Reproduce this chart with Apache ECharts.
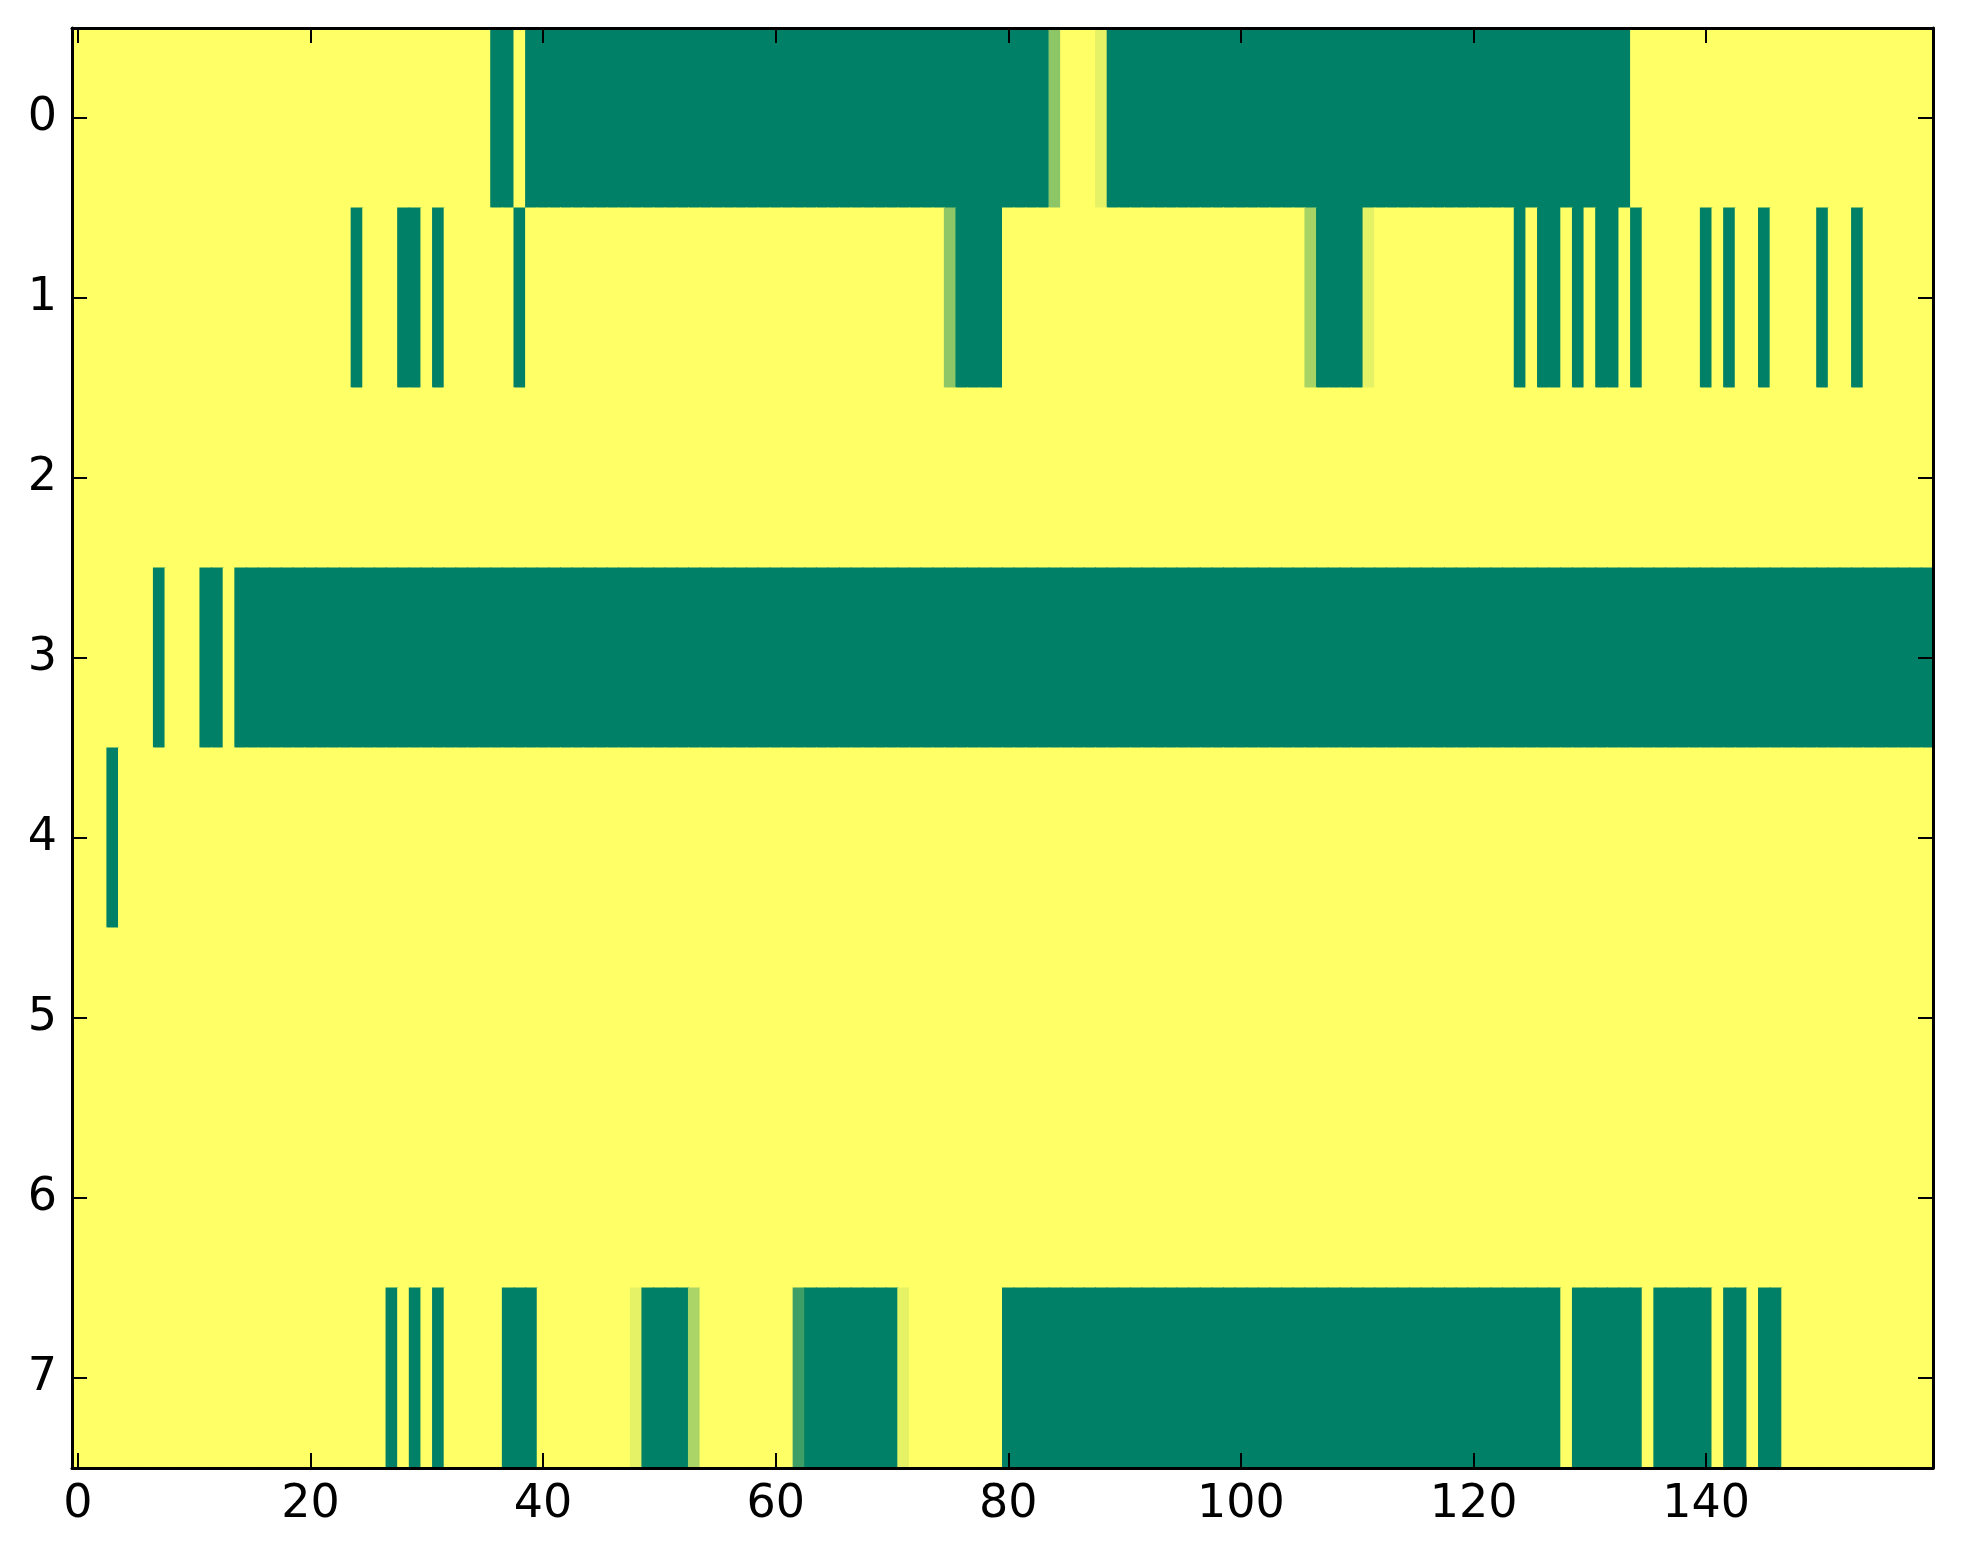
<!DOCTYPE html>
<html>
<head>
<meta charset="utf-8">
<script src="https://cdn.jsdelivr.net/npm/echarts@6/dist/echarts.min.js"></script>
<style>
html,body{margin:0;padding:0;background:#fff;}
#chart{width:1963px;height:1564px;}
</style>
</head>
<body>
<div id="chart"></div>
<script>
// column labels 0..159, row labels 0..7
var xCategories = [];
for (var i = 0; i < 160; i++) xCategories.push(String(i));
var yCategories = ['0','1','2','3','4','5','6','7'];
var xTickLabels = ['0','20','40','60','80','100','120','140'];

var row0 = [
1,1,1,1,1,1,1,1,1,1,1,1,1,1,1,1,1,1,1,1,
1,1,1,1,1,1,1,1,1,1,1,1,1,1,1,1,0,0,1,0,
0,0,0,0,0,0,0,0,0,0,0,0,0,0,0,0,0,0,0,0,
0,0,0,0,0,0,0,0,0,0,0,0,0,0,0,0,0,0,0,0,
0,0,0,0,0.55,1,1,1,0.9,0,0,0,0,0,0,0,0,0,0,0,
0,0,0,0,0,0,0,0,0,0,0,0,0,0,0,0,0,0,0,0,
0,0,0,0,0,0,0,0,0,0,0,0,0,0,1,1,1,1,1,1,
1,1,1,1,1,1,1,1,1,1,1,1,1,1,1,1,1,1,1,1
];
var row1 = [
1,1,1,1,1,1,1,1,1,1,1,1,1,1,1,1,1,1,1,1,
1,1,1,1,0,1,1,1,0,0,1,0,1,1,1,1,1,1,0,1,
1,1,1,1,1,1,1,1,1,1,1,1,1,1,1,1,1,1,1,1,
1,1,1,1,1,1,1,1,1,1,1,1,1,1,1,0.55,0,0,0,0,
1,1,1,1,1,1,1,1,1,1,1,1,1,1,1,1,1,1,1,1,
1,1,1,1,1,1,0.66,0,0,0,0,0.9,1,1,1,1,1,1,1,1,
1,1,1,1,0,1,0,0,1,0,1,0,0,1,0,1,1,1,1,1,
0,1,0,1,1,0,1,1,1,1,0,1,1,0,1,1,1,1,1,1
];
var row2 = [
1,1,1,1,1,1,1,1,1,1,1,1,1,1,1,1,1,1,1,1,
1,1,1,1,1,1,1,1,1,1,1,1,1,1,1,1,1,1,1,1,
1,1,1,1,1,1,1,1,1,1,1,1,1,1,1,1,1,1,1,1,
1,1,1,1,1,1,1,1,1,1,1,1,1,1,1,1,1,1,1,1,
1,1,1,1,1,1,1,1,1,1,1,1,1,1,1,1,1,1,1,1,
1,1,1,1,1,1,1,1,1,1,1,1,1,1,1,1,1,1,1,1,
1,1,1,1,1,1,1,1,1,1,1,1,1,1,1,1,1,1,1,1,
1,1,1,1,1,1,1,1,1,1,1,1,1,1,1,1,1,1,1,1
];
var row3 = [
1,1,1,1,1,1,1,0,1,1,1,0,0,1,0,0,0,0,0,0,
0,0,0,0,0,0,0,0,0,0,0,0,0,0,0,0,0,0,0,0,
0,0,0,0,0,0,0,0,0,0,0,0,0,0,0,0,0,0,0,0,
0,0,0,0,0,0,0,0,0,0,0,0,0,0,0,0,0,0,0,0,
0,0,0,0,0,0,0,0,0,0,0,0,0,0,0,0,0,0,0,0,
0,0,0,0,0,0,0,0,0,0,0,0,0,0,0,0,0,0,0,0,
0,0,0,0,0,0,0,0,0,0,0,0,0,0,0,0,0,0,0,0,
0,0,0,0,0,0,0,0,0,0,0,0,0,0,0,0,0,0,0,0
];
var row4 = [
1,1,1,0,1,1,1,1,1,1,1,1,1,1,1,1,1,1,1,1,
1,1,1,1,1,1,1,1,1,1,1,1,1,1,1,1,1,1,1,1,
1,1,1,1,1,1,1,1,1,1,1,1,1,1,1,1,1,1,1,1,
1,1,1,1,1,1,1,1,1,1,1,1,1,1,1,1,1,1,1,1,
1,1,1,1,1,1,1,1,1,1,1,1,1,1,1,1,1,1,1,1,
1,1,1,1,1,1,1,1,1,1,1,1,1,1,1,1,1,1,1,1,
1,1,1,1,1,1,1,1,1,1,1,1,1,1,1,1,1,1,1,1,
1,1,1,1,1,1,1,1,1,1,1,1,1,1,1,1,1,1,1,1
];
var row5 = [
1,1,1,1,1,1,1,1,1,1,1,1,1,1,1,1,1,1,1,1,
1,1,1,1,1,1,1,1,1,1,1,1,1,1,1,1,1,1,1,1,
1,1,1,1,1,1,1,1,1,1,1,1,1,1,1,1,1,1,1,1,
1,1,1,1,1,1,1,1,1,1,1,1,1,1,1,1,1,1,1,1,
1,1,1,1,1,1,1,1,1,1,1,1,1,1,1,1,1,1,1,1,
1,1,1,1,1,1,1,1,1,1,1,1,1,1,1,1,1,1,1,1,
1,1,1,1,1,1,1,1,1,1,1,1,1,1,1,1,1,1,1,1,
1,1,1,1,1,1,1,1,1,1,1,1,1,1,1,1,1,1,1,1
];
var row6 = [
1,1,1,1,1,1,1,1,1,1,1,1,1,1,1,1,1,1,1,1,
1,1,1,1,1,1,1,1,1,1,1,1,1,1,1,1,1,1,1,1,
1,1,1,1,1,1,1,1,1,1,1,1,1,1,1,1,1,1,1,1,
1,1,1,1,1,1,1,1,1,1,1,1,1,1,1,1,1,1,1,1,
1,1,1,1,1,1,1,1,1,1,1,1,1,1,1,1,1,1,1,1,
1,1,1,1,1,1,1,1,1,1,1,1,1,1,1,1,1,1,1,1,
1,1,1,1,1,1,1,1,1,1,1,1,1,1,1,1,1,1,1,1,
1,1,1,1,1,1,1,1,1,1,1,1,1,1,1,1,1,1,1,1
];
var row7 = [
1,1,1,1,1,1,1,1,1,1,1,1,1,1,1,1,1,1,1,1,
1,1,1,1,1,1,1,0,1,0,1,0,1,1,1,1,1,0,0,0,
1,1,1,1,1,1,1,1,0.9,0,0,0,0,0.67,1,1,1,1,1,1,
1,1,0.24,0,0,0,0,0,0,0,0,0.9,1,1,1,1,1,1,1,1,
0,0,0,0,0,0,0,0,0,0,0,0,0,0,0,0,0,0,0,0,
0,0,0,0,0,0,0,0,0,0,0,0,0,0,0,0,0,0,0,0,
0,0,0,0,0,0,0,0,1,0,0,0,0,0,0,1,0,0,0,0,
0,1,0,0,1,0,0,1,1,1,1,1,1,1,1,1,1,1,1,1
];
var rows = [row0,row1,row2,row3,row4,row5,row6,row7];

var data = [];
for (var r = 0; r < rows.length; r++) {
  for (var c = 0; c < rows[r].length; c++) {
    data.push([c, r, rows[r][c]]);
  }
}

function isLabeled(idx) {
  return xTickLabels.indexOf(xCategories[idx]) >= 0;
}

var axisLineStyle = {color:'#000', width:3};
var tickStyle = {color:'#000', width:2};
var font = {fontFamily:'DejaVu Sans', fontSize:46, color:'#000'};

function renderCell(params, api) {
  var center = api.coord([api.value(0), api.value(1)]);
  var size = api.size([1, 1]);
  var w = size[0], h = size[1];
  var rect = {
    x: center[0] - w / 2 - 0.5,
    y: center[1] - h / 2 - 0.5,
    width: w + 1,
    height: h + 1
  };
  var clipped = echarts.graphic.clipRectByRect(rect, {
    x: params.coordSys.x, y: params.coordSys.y,
    width: params.coordSys.width, height: params.coordSys.height
  });
  if (!clipped) return;
  return {
    type:'rect',
    shape: clipped,
    style: {fill: api.visual('color')}
  };
}

var chart = echarts.init(document.getElementById('chart'), null, {renderer:'canvas'});
chart.setOption({
  animation:false,
  backgroundColor:'#ffffff',
  grid:{left:72, right:30, top:28, bottom:96, containLabel:false},
  visualMap:{
    type:'continuous', show:false, min:0, max:1, dimension:2, seriesIndex:0,
    inRange:{color:['#008066','#ffff66']}
  },
  xAxis:[
    {
      type:'category', data:xCategories, position:'bottom', z:10,
      axisLine:{show:true, lineStyle:axisLineStyle},
      axisTick:{show:true, inside:true, length:15, alignWithLabel:true, lineStyle:tickStyle,
        interval:function(i){return isLabeled(i);}},
      axisLabel:{show:true, margin:14, interval:function(i){return isLabeled(i);},
        fontFamily:font.fontFamily, fontSize:font.fontSize, color:font.color},
      splitLine:{show:false}, splitArea:{show:false}
    },
    {
      type:'category', data:xCategories, position:'top', z:10,
      axisLine:{show:true, lineStyle:axisLineStyle},
      axisTick:{show:true, inside:true, length:15, alignWithLabel:true, lineStyle:tickStyle,
        interval:function(i){return isLabeled(i);}},
      axisLabel:{show:false},
      splitLine:{show:false}, splitArea:{show:false}
    }
  ],
  yAxis:[
    {
      type:'category', data:yCategories, inverse:true, position:'left', z:10,
      axisLine:{show:true, lineStyle:axisLineStyle},
      axisTick:{show:true, inside:true, length:15, alignWithLabel:true, lineStyle:tickStyle},
      axisLabel:{show:true, margin:15,
        fontFamily:font.fontFamily, fontSize:font.fontSize, color:font.color},
      splitLine:{show:false}, splitArea:{show:false}
    },
    {
      type:'category', data:yCategories, inverse:true, position:'right', z:10,
      axisLine:{show:true, lineStyle:axisLineStyle},
      axisTick:{show:true, inside:true, length:15, alignWithLabel:true, lineStyle:tickStyle},
      axisLabel:{show:false},
      splitLine:{show:false}, splitArea:{show:false}
    }
  ],
  series:[{
    type:'custom', xAxisIndex:0, yAxisIndex:0, data:data,
    renderItem:renderCell,
    encode:{x:0, y:1},
    z:2,
    silent:true
  }]
});
</script>
</body>
</html>
